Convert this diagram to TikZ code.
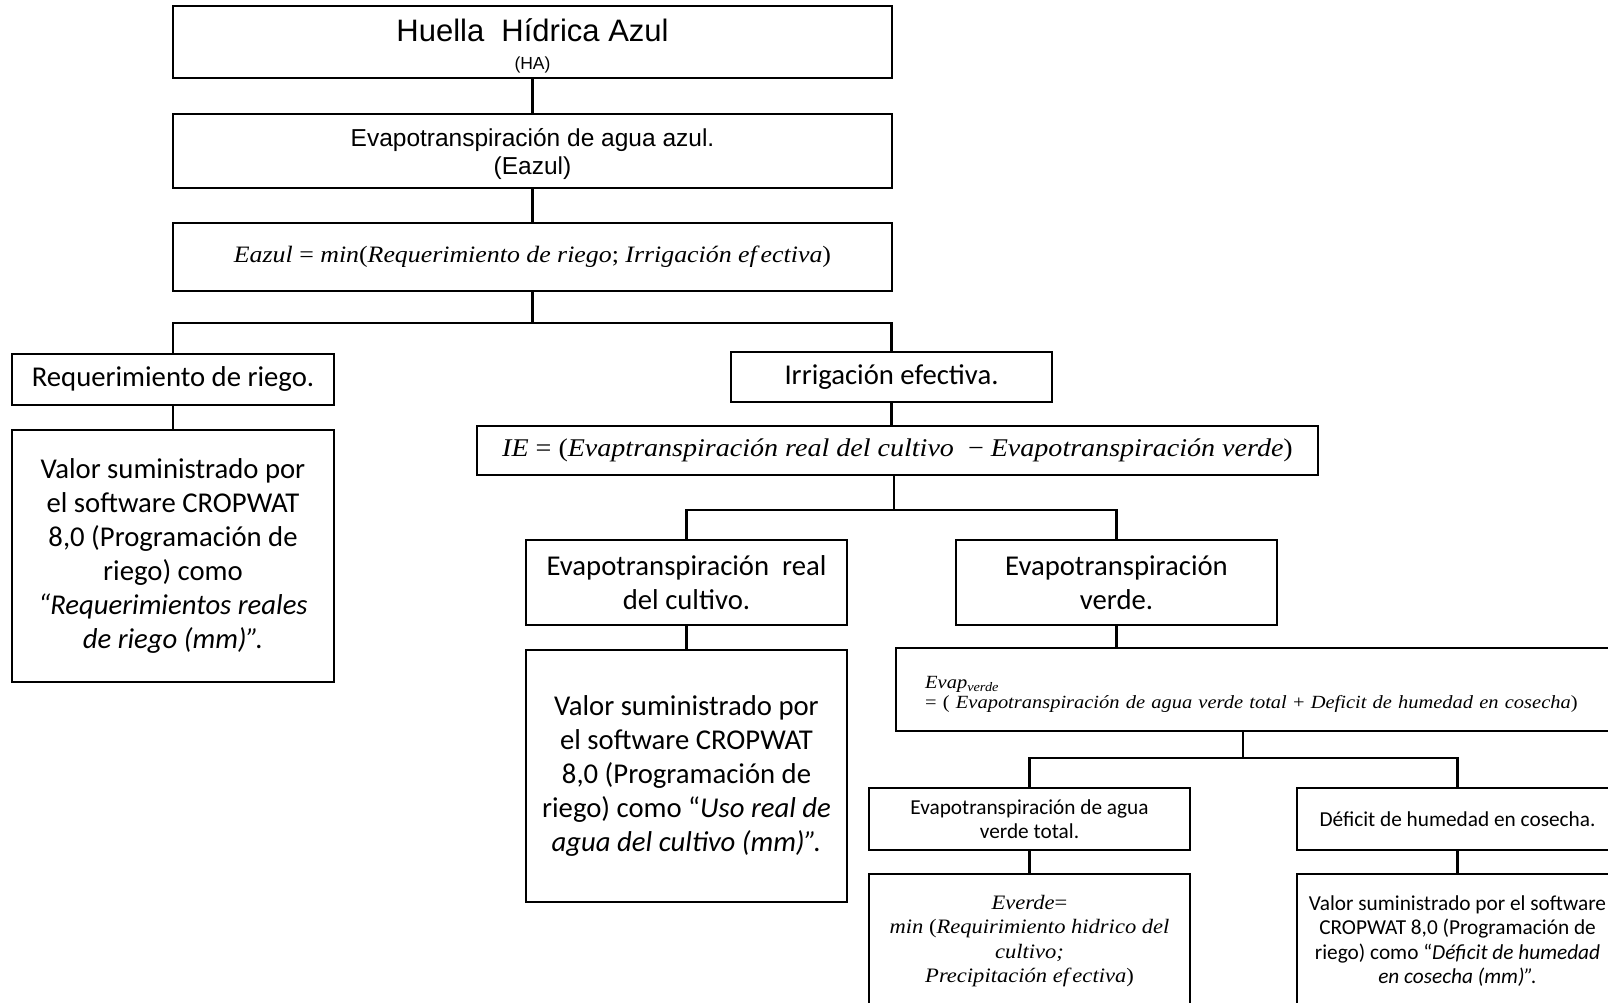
\documentclass[tikz,border=0pt]{standalone}
\usepackage{fontspec}
\setmainfont{Carlito}
\newfontfamily\arialf{Liberation Sans}
\newfontfamily\formf[FakeStretch=1.1]{Liberation Serif}
\usetikzlibrary{calc}

\tikzset{
  box/.style={draw, line width=2.4pt, inner sep=0pt, align=center, fill=white},
  link/.style={line width=2.4pt},
  big/.style={font=\fontsize{28.7}{34}\selectfont},
  small/.style={font=\fontsize{21.3}{24.5}\selectfont},
}

\begin{document}
\begin{tikzpicture}[x=1pt, y=-1pt]
\useasboundingbox (0,0) rectangle (1608,1003);
\fill[white] (0,0) rectangle (1608,1003);
\clip (0,0) rectangle (1608,1003);

% upper chain
\node[box, minimum width=719pt, minimum height=72pt,
      font=\arialf\fontsize{31}{30}\selectfont] (ha) at (532.5,42)
  {\rule{0pt}{31pt}Huella\ \ Hídrica Azul\\[-2pt] {\fontsize{17.5}{20}\selectfont (HA)}};
\node[box, minimum width=719pt, minimum height=74pt,
      font=\arialf\fontsize{24.5}{28}\selectfont] (eaz) at (532.5,151)
  {\rule{0pt}{24pt}Evapotranspiración de agua azul.\\ (Eazul)};
\node[box, minimum width=719pt, minimum height=68pt,
      font=\formf\fontsize{23.5}{28}\selectfont] (feaz) at (532.5,257)
  {\textit{Eazul} = \textit{min}(\textit{Requerimiento de riego}; \textit{Irrigación ef\,ectiva})};

% first split
\node[box, big, minimum width=322pt, minimum height=51pt] (req) at (173,379.5)
  {Requerimiento de riego.};
\node[box, big, minimum width=321pt, minimum height=50pt] (irr) at (891.5,377)
  {Irrigación efectiva.};
\node[box, big, minimum width=322pt, minimum height=252pt] (vreq) at (173,556)
  {Valor suministrado por\\ el software CROPWAT\\ 8,0 (Programación de\\ riego) como\\
   \textit{“Requerimientos reales}\\ \textit{de riego (mm)”.}};
\node[box, minimum width=841pt, minimum height=49pt,
      font=\formf\fontsize{25.5}{28}\selectfont] (ie) at (897.5,450.5)
  {\textit{IE} = (\textit{Evaptranspiración real del cultivo}\ \ − \textit{Evapotranspiración verde})};

% second split
\node[box, big, minimum width=321pt, minimum height=85pt] (etr) at (686.5,582.5)
  {Evapotranspiración\ \ real\\ del cultivo.};
\node[box, big, minimum width=321pt, minimum height=85pt] (ev) at (1116.5,582.5)
  {Evapotranspiración\\ verde.};
\node[box, big, minimum width=321pt, minimum height=252pt] (vetr) at (686.5,776)
  {Valor suministrado por\\ el software CROPWAT\\ 8,0 (Programación de\\
   riego) como “\textit{Uso real de}\\ \textit{agua del cultivo (mm)”.}};
\node[box, align=left, inner xsep=29pt, text width=659pt, minimum height=83pt,
      anchor=west, font=\formf\fontsize{18.6}{20.5}\selectfont] (fev) at (895,689.5)
  {\rule{0pt}{22pt}\textit{Evap}\textsubscript{\textit{verde}}\\
   \mbox{= ( \textit{Evapotranspiración de agua verde total} + \textit{Deficit de humedad en cosecha})}};

% third split
\node[box, small, minimum width=321pt, minimum height=62pt] (evt) at (1029.5,819)
  {Evapotranspiración de agua\\ verde total.};
\node[box, small, minimum width=321pt, minimum height=62pt] (def) at (1457.5,819)
  {Déficit de humedad en cosecha.};
\node[box, minimum width=321pt, minimum height=134pt,
      font=\formf\fontsize{20.5}{24.3}\selectfont] (ef) at (1029.5,941)
  {\textit{Everde}=\\ \textit{min} (\textit{Requirimiento hidrico del}\\
   \textit{cultivo;}\\ \textit{Precipitación ef\,ectiva})};
\node[box, small, minimum width=321pt, minimum height=134pt] (vdef) at (1457.5,941)
  {Valor suministrado por el software\\ CROPWAT 8,0 (Programación de\\
   riego) como “\textit{Déficit de humedad}\\ \textit{en cosecha (mm)”.}};

% junction points
\coordinate (j1) at ($(feaz.south)+(0,31)$);
\coordinate (j2) at ($(ie.south)+(-3.5,34)$);
\coordinate (j3) at (1243,758);

% connectors
\draw[link] (ha.south) -- (eaz.north);
\draw[link] (eaz.south) -- (feaz.north);
\draw[link] (feaz.south) -- (j1);
\draw[link] (req.north) |- (j1) -| (irr.north);
\draw[link] (req.south) -- (vreq.north);
\draw[link] (irr.south) -- (irr.south |- ie.north);
\draw[link] (j2 |- ie.south) -- (j2);
\draw[link] (etr.north) |- (j2) -| (ev.north);
\draw[link] (etr.south) -- (vetr.north);
\draw[link] (ev.south) -- (ev.south |- fev.north);
\draw[link] (j3 |- fev.south) -- (j3);
\draw[link] (evt.north) |- (j3) -| (def.north);
\draw[link] (evt.south) -- (ef.north);
\draw[link] (def.south) -- (vdef.north);
\end{tikzpicture}
\end{document}
